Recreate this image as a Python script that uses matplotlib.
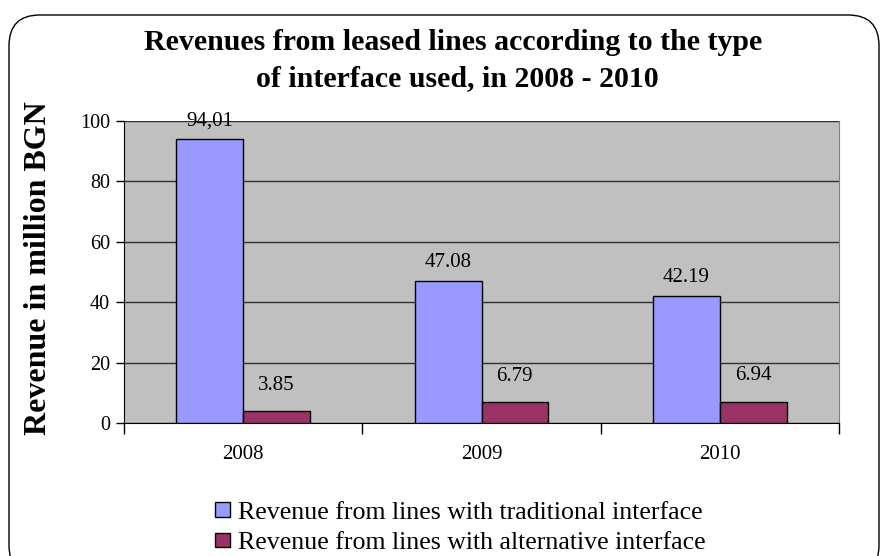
import numpy as np
import matplotlib
matplotlib.use("Agg")
import matplotlib.pyplot as plt
from matplotlib.patches import FancyBboxPatch

plt.rcParams["font.family"] = ["Liberation Serif", "DejaVu Serif"]

years = ["2008", "2009", "2010"]
traditional = [94.01, 47.08, 42.19]
alternative = [3.85, 6.79, 6.94]
traditional_labels = ["94,01", "47.08", "42.19"]
alternative_labels = ["3.85", "6.79", "6.94"]
series_names = ["Revenue from lines with traditional interface",
                "Revenue from lines with alternative interface"]
yticks = [0, 20, 40, 60, 80, 100]

W, H = 880, 556
fig = plt.figure(figsize=(W / 100, H / 100), dpi=100)

# rounded outer frame
frame = FancyBboxPatch((9 / W, -20 / H), 870 / W, 556 / H + 5 / H,
                       boxstyle="round,pad=0,rounding_size=0.035",
                       transform=fig.transFigure, fill=False,
                       edgecolor="black", linewidth=1.0, clip_on=False,
                       mutation_aspect=W / H)
fig.patches.append(frame)

ax = fig.add_axes([124 / W, (H - 423) / H, 715 / W, 302 / H])
ax.set_facecolor("#C0C0C0")

x = np.arange(len(years))
w = 0.28
b1 = ax.bar(x - w / 2, traditional, w, color="#9999FF", edgecolor="black",
            linewidth=1.0, zorder=3, label=series_names[0])
b2 = ax.bar(x + w / 2, alternative, w, color="#993366", edgecolor="black",
            linewidth=1.0, zorder=3, label=series_names[1])

for rect, txt in zip(b1, traditional_labels):
    ax.annotate(txt, (rect.get_x() + rect.get_width() / 2, rect.get_height()),
                xytext=(0, 6), textcoords="offset points", ha="center",
                va="bottom", fontsize=15)
for rect, txt in zip(b2, alternative_labels):
    ax.annotate(txt, (rect.get_x() + rect.get_width() / 2, rect.get_height()),
                xytext=(0, 12), textcoords="offset points", ha="center",
                va="bottom", fontsize=15)

ax.set_xlim(-0.5, 2.5)
ax.set_ylim(0, 100)
ax.set_yticks(yticks)
ax.tick_params(axis="y", labelsize=14.5, length=6, width=1, direction="out", pad=4)
ax.yaxis.grid(True, color="#303030", linewidth=1.0, zorder=1)
ax.set_axisbelow(True)

ax.set_xticks(x)
ax.set_xticklabels(years)
ax.tick_params(axis="x", which="major", length=0, labelsize=15, pad=16)
ax.set_xticks([-0.5, 0.5, 1.5, 2.5], minor=True)
ax.tick_params(axis="x", which="minor", length=8, width=1, direction="out")

ax.spines["top"].set_visible(False)
ax.spines["right"].set_color("#808080")
ax.spines["left"].set_color("black")
ax.spines["bottom"].set_color("black")

fig.text(453 / W, 1 - 43 / H, "Revenues from leased lines according to the type",
         ha="center", va="center", fontsize=21.5, fontweight="bold")
fig.text(457 / W, 1 - 79 / H, "of interface used, in 2008 - 2010",
         ha="center", va="center", fontsize=21.5, fontweight="bold")
fig.text(38 / W, 1 - 268 / H, "Revenue in million BGN", rotation=90,
         ha="center", va="center", fontsize=23, fontweight="bold")

fig.legend(handles=[b1, b2], loc="center left",
           bbox_to_anchor=(202 / W, 1 - 528 / H), frameon=False,
           fontsize=18.6, handlelength=0.58, handleheight=0.5,
           handletextpad=0.3, labelspacing=0.33, borderpad=0)

fig.savefig("out.png", dpi=100)
